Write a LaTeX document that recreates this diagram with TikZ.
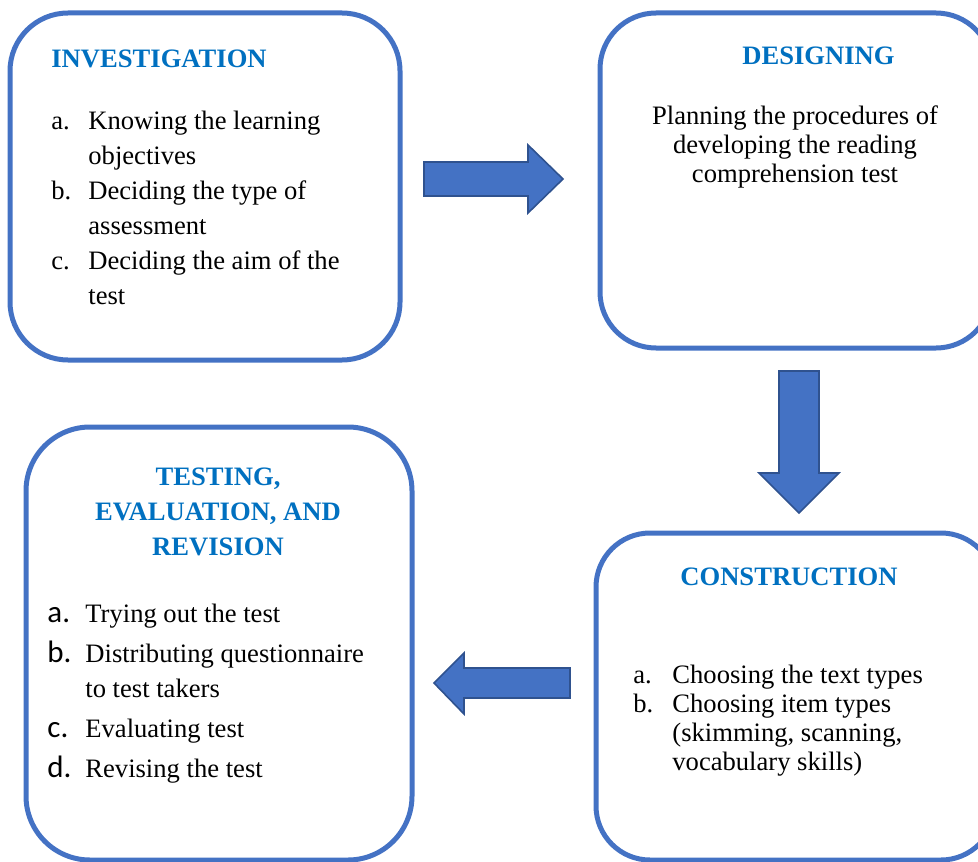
\documentclass[tikz,border=0pt]{standalone}
\usepackage{fontspec}
\setmainfont{Liberation Serif}
\newfontfamily\letterfont{Carlito}
\usepackage{xcolor}
\usetikzlibrary{positioning}
\definecolor{boxblue}{HTML}{4472C4}
\definecolor{titleblue}{HTML}{0070C0}
\definecolor{arrowedge}{HTML}{2F528F}

\tikzset{
	stage/.style={draw=boxblue,line width=2.5pt,inner sep=0pt,rounded corners=#1},
	stagetitle/.style={text=titleblue,font=\fontsize{13.3}{17.5}\selectfont\bfseries,inner sep=0pt,anchor=base},
	stagebody/.style={font=\fontsize{13.3}{#1}\selectfont,inner sep=0pt},
	blockarrow/.style={fill=boxblue,draw=arrowedge,line width=0.8pt,line join=miter}
}
\newcommand{\bigletter}[1]{{\letterfont\fontsize{15.5}{17.5}\selectfont #1}}

\begin{document}
\begin{tikzpicture}[x=0.5pt,y=-0.5pt]
	\useasboundingbox (0,0) rectangle (978,861);
	\clip (0,0) rectangle (978,861);
	% the four stages
	\node[stage=29pt,minimum width=195pt,minimum height=173.5pt] (inv) at (205,186.5) {};
	\node[stage=28pt,minimum width=196pt,minimum height=167.5pt] (des) at (796,180.5) {};
	\node[stage=32pt,minimum width=193pt,minimum height=216.5pt] (tst) at (219,643.5) {};
	\node[stage=27pt,minimum width=199.5pt,minimum height=163.5pt] (con) at (795.5,696.5) {};

	% investigation
	\node[stagetitle,anchor=base west] (invtitle) at (51,68) {INVESTIGATION};
	\node[stagebody=17.5pt,anchor=base west] (invlist) at (51,130) {%
		\begin{tabular}[t]{@{}p{18.5pt}@{}l@{}}
		a. & Knowing the learning\\
		   & objectives\\
		b. & Deciding the type of\\
		   & assessment\\
		c. & Deciding the aim of the\\
		   & test
		\end{tabular}};

	% designing
	\node[stagetitle] (destitle) at (818.5,65) {DESIGNING};
	\node[stagebody=14.5pt,anchor=base] (destext) at (795,125) {%
		\begin{tabular}[t]{@{}c@{}}
		Planning the procedures of\\
		developing the reading\\
		comprehension test
		\end{tabular}};

	% testing, evaluation and revision
	\node[stagetitle] (tsttitle) at (218,485) {%
		\begin{tabular}[t]{@{}c@{}}
		TESTING,\\
		EVALUATION, AND\\
		REVISION
		\end{tabular}};
	\node[stagebody=17.5pt,anchor=base west] (tstlist) at (47,622) {%
		\begin{tabular}[t]{@{}p{19pt}@{}l@{}}
		\bigletter{a.} & Trying out the test\\[2.5pt]
		\bigletter{b.} & Distributing questionnaire\\
		               & to test takers\\[2.5pt]
		\bigletter{c.} & Evaluating test\\[2.5pt]
		\bigletter{d.} & Revising the test
		\end{tabular}};

	% construction
	\node[stagetitle] (contitle) at (789,585) {CONSTRUCTION};
	\node[stagebody=14.5pt,anchor=base west] (conlist) at (633,683) {%
		\begin{tabular}[t]{@{}p{19.5pt}@{}l@{}}
		a. & Choosing the text types\\
		b. & Choosing item types\\
		   & (skimming, scanning,\\
		   & vocabulary skills)
		\end{tabular}};

	% block arrows between the stages
	\draw[blockarrow] (424,162) -- (528,162) -- (528,145) -- (563,179) -- (528,213) -- (528,196) -- (424,196) -- cycle;
	\draw[blockarrow] (779,371) -- (819,371) -- (819,473) -- (839,473) -- (799,513) -- (759,473) -- (779,473) -- cycle;
	\draw[blockarrow] (570,668) -- (464,668) -- (464,653) -- (434,683) -- (464,714) -- (464,698) -- (570,698) -- cycle;
\end{tikzpicture}
\end{document}
